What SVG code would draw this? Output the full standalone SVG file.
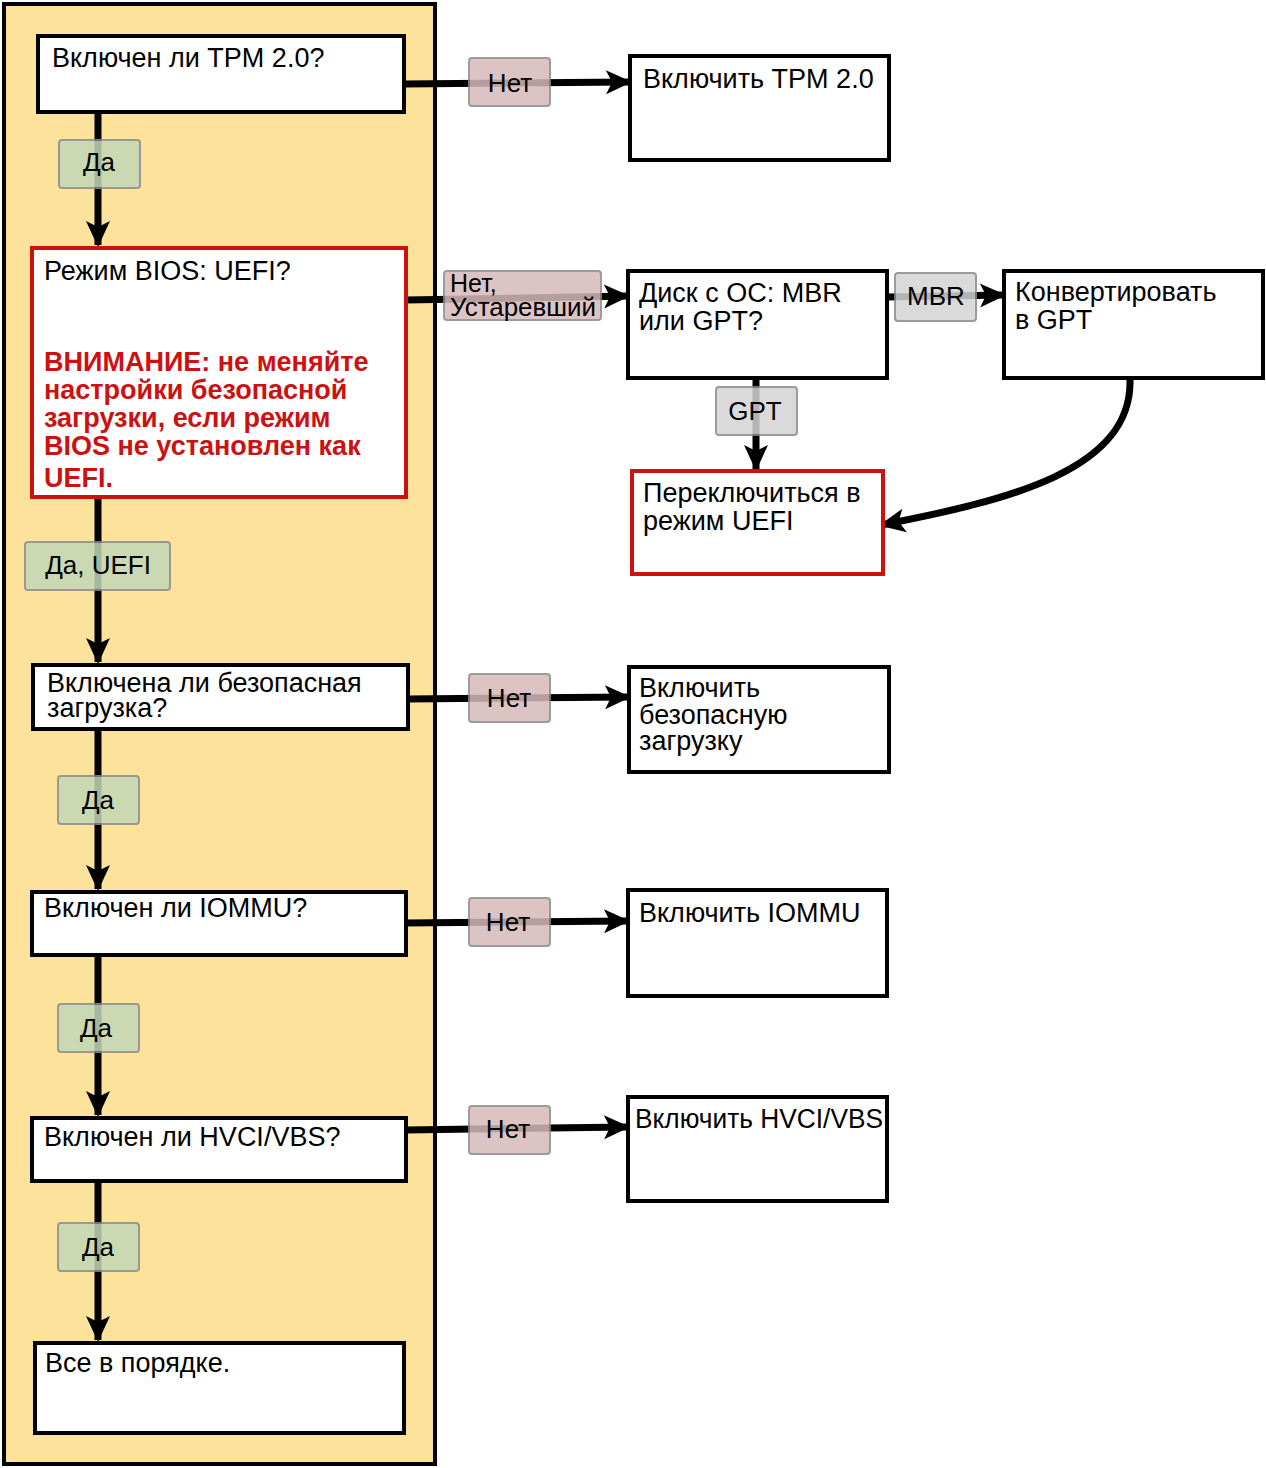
<svg xmlns="http://www.w3.org/2000/svg" width="1266" height="1468" viewBox="0 0 1266 1468">
<defs>
<marker id="ah" markerUnits="userSpaceOnUse" markerWidth="30" markerHeight="30" viewBox="0 0 30 30" refX="26" refY="15" orient="auto">
<path d="M2 3 L28 15 L2 27 L8 15 Z" fill="#000"/>
</marker>
<style>
.box{fill:#fff;stroke:#000;stroke-width:4}
.red{fill:#fff;stroke:#cc1111;stroke-width:4}
.t{font-family:"Liberation Sans",Arial,sans-serif;font-size:27px;fill:#000}
.w{font-family:"Liberation Sans",Arial,sans-serif;font-size:27px;font-weight:bold;fill:#cc1111}
.c{fill:none;stroke:#000;stroke-width:7}
.lbl{stroke:#8a8a8a;stroke-width:2;opacity:0.85}
.yes{fill:#c3d8b8}
.no{fill:#d6baba}
.gr{fill:#d4d4d4}
.lt{font-family:"Liberation Sans",Arial,sans-serif;font-size:26px;fill:#000;text-anchor:middle}
</style>
</defs>
<rect x="4" y="4" width="431" height="1460" fill="#fde29b" stroke="#000" stroke-width="4"/>

<g id="connectors">
<path class="c" d="M404 84 L630 82" marker-end="url(#ah)"/>
<path class="c" d="M98 112 L98 245" marker-end="url(#ah)"/>
<path class="c" d="M406 300 L628 296" marker-end="url(#ah)"/>
<path class="c" d="M887 297 L1004 295" marker-end="url(#ah)"/>
<path class="c" d="M756 378 L756 469" marker-end="url(#ah)"/>
<path class="c" d="M1130 380 C1132 470 1010 500 881 525" marker-end="url(#ah)"/>
<path class="c" d="M98 497 L98 662" marker-end="url(#ah)"/>
<path class="c" d="M408 699 L629 697" marker-end="url(#ah)"/>
<path class="c" d="M98 729 L98 889" marker-end="url(#ah)"/>
<path class="c" d="M406 923 L628 921" marker-end="url(#ah)"/>
<path class="c" d="M98 955 L98 1115" marker-end="url(#ah)"/>
<path class="c" d="M406 1130 L628 1127" marker-end="url(#ah)"/>
<path class="c" d="M98 1181 L98 1340" marker-end="url(#ah)"/>
</g>

<g id="n1"><rect class="box" x="38" y="36" width="366" height="76"/><text class="t" x="52" y="67">Включен ли TPM 2.0?</text></g>
<g id="n2"><rect class="red" x="32" y="248" width="374" height="249"/>
<text class="t" x="44" y="280">Режим BIOS: UEFI?</text>
<text class="w" x="44" y="371">ВНИМАНИЕ: не меняйте</text>
<text class="w" x="44" y="399">настройки безопасной</text>
<text class="w" x="44" y="427">загрузки, если режим</text>
<text class="w" x="44" y="455">BIOS не установлен как</text>
<text class="w" x="44" y="487">UEFI.</text>
</g>
<g id="n3"><rect class="box" x="33" y="665" width="375" height="64"/><text class="t" x="47" y="692">Включена ли безопасная</text><text class="t" x="47" y="717">загрузка?</text></g>
<g id="n4"><rect class="box" x="32" y="892" width="374" height="63"/><text class="t" x="44" y="917">Включен ли IOMMU?</text></g>
<g id="n5"><rect class="box" x="32" y="1118" width="374" height="63"/><text class="t" x="44" y="1146">Включен ли HVCI/VBS?</text></g>
<g id="n6"><rect class="box" x="35" y="1343" width="369" height="90"/><text class="t" x="45" y="1372">Все в порядке.</text></g>

<g id="r1"><rect class="box" x="630" y="56" width="259" height="104"/><text class="t" x="643" y="88">Включить TPM 2.0</text></g>
<g id="r2"><rect class="box" x="628" y="271" width="259" height="107"/><text class="t" x="639" y="302">Диск с ОС: MBR</text><text class="t" x="639" y="330">или GPT?</text></g>
<g id="r3"><rect class="box" x="1004" y="271" width="259" height="107"/><text class="t" x="1015" y="301">Конвертировать</text><text class="t" x="1015" y="329">в GPT</text></g>
<g id="r4"><rect class="red" x="632" y="471" width="251" height="103"/><text class="t" x="643" y="502">Переключиться в</text><text class="t" x="643" y="530">режим UEFI</text></g>
<g id="r5"><rect class="box" x="629" y="667" width="260" height="105"/><text class="t" x="639" y="697">Включить</text><text class="t" x="639" y="724">безопасную</text><text class="t" x="639" y="750">загрузку</text></g>
<g id="r6"><rect class="box" x="628" y="890" width="259" height="106"/><text class="t" x="639" y="922">Включить IOMMU</text></g>
<g id="r7"><rect class="box" x="628" y="1097" width="259" height="104"/><text class="t" x="635" y="1128" textLength="248" lengthAdjust="spacingAndGlyphs">Включить HVCI/VBS</text></g>

<g id="labels">
<rect class="lbl yes" x="59" y="140" width="81" height="48" rx="3"/><text class="lt" x="99" y="171">Да</text>
<rect class="lbl no" x="469" y="58" width="81" height="48" rx="3"/><text class="lt" x="510" y="92">Нет</text>
<rect class="lbl no" x="444" y="271" width="157" height="49" rx="3"/><text class="t" x="450" y="292" style="font-size:25px">Нет,</text><text class="t" x="450" y="316" style="font-size:25px" textLength="146" lengthAdjust="spacingAndGlyphs">Устаревший</text>
<rect class="lbl gr" x="895" y="273" width="81" height="48" rx="3"/><text class="lt" x="936" y="305">MBR</text>
<rect class="lbl gr" x="716" y="387" width="81" height="48" rx="3"/><text class="lt" x="755" y="420">GPT</text>
<rect class="lbl yes" x="25" y="542" width="145" height="48" rx="3"/><text class="lt" x="98" y="574">Да, UEFI</text>
<rect class="lbl no" x="469" y="674" width="81" height="48" rx="3"/><text class="lt" x="509" y="707">Нет</text>
<rect class="lbl yes" x="58" y="776" width="81" height="48" rx="3"/><text class="lt" x="98" y="809">Да</text>
<rect class="lbl no" x="469" y="898" width="81" height="48" rx="3"/><text class="lt" x="508" y="931">Нет</text>
<rect class="lbl yes" x="58" y="1004" width="81" height="48" rx="3"/><text class="lt" x="96" y="1037">Да</text>
<rect class="lbl no" x="469" y="1106" width="81" height="48" rx="3"/><text class="lt" x="508" y="1138">Нет</text>
<rect class="lbl yes" x="58" y="1223" width="81" height="48" rx="3"/><text class="lt" x="98" y="1256">Да</text>
</g>
</svg>
